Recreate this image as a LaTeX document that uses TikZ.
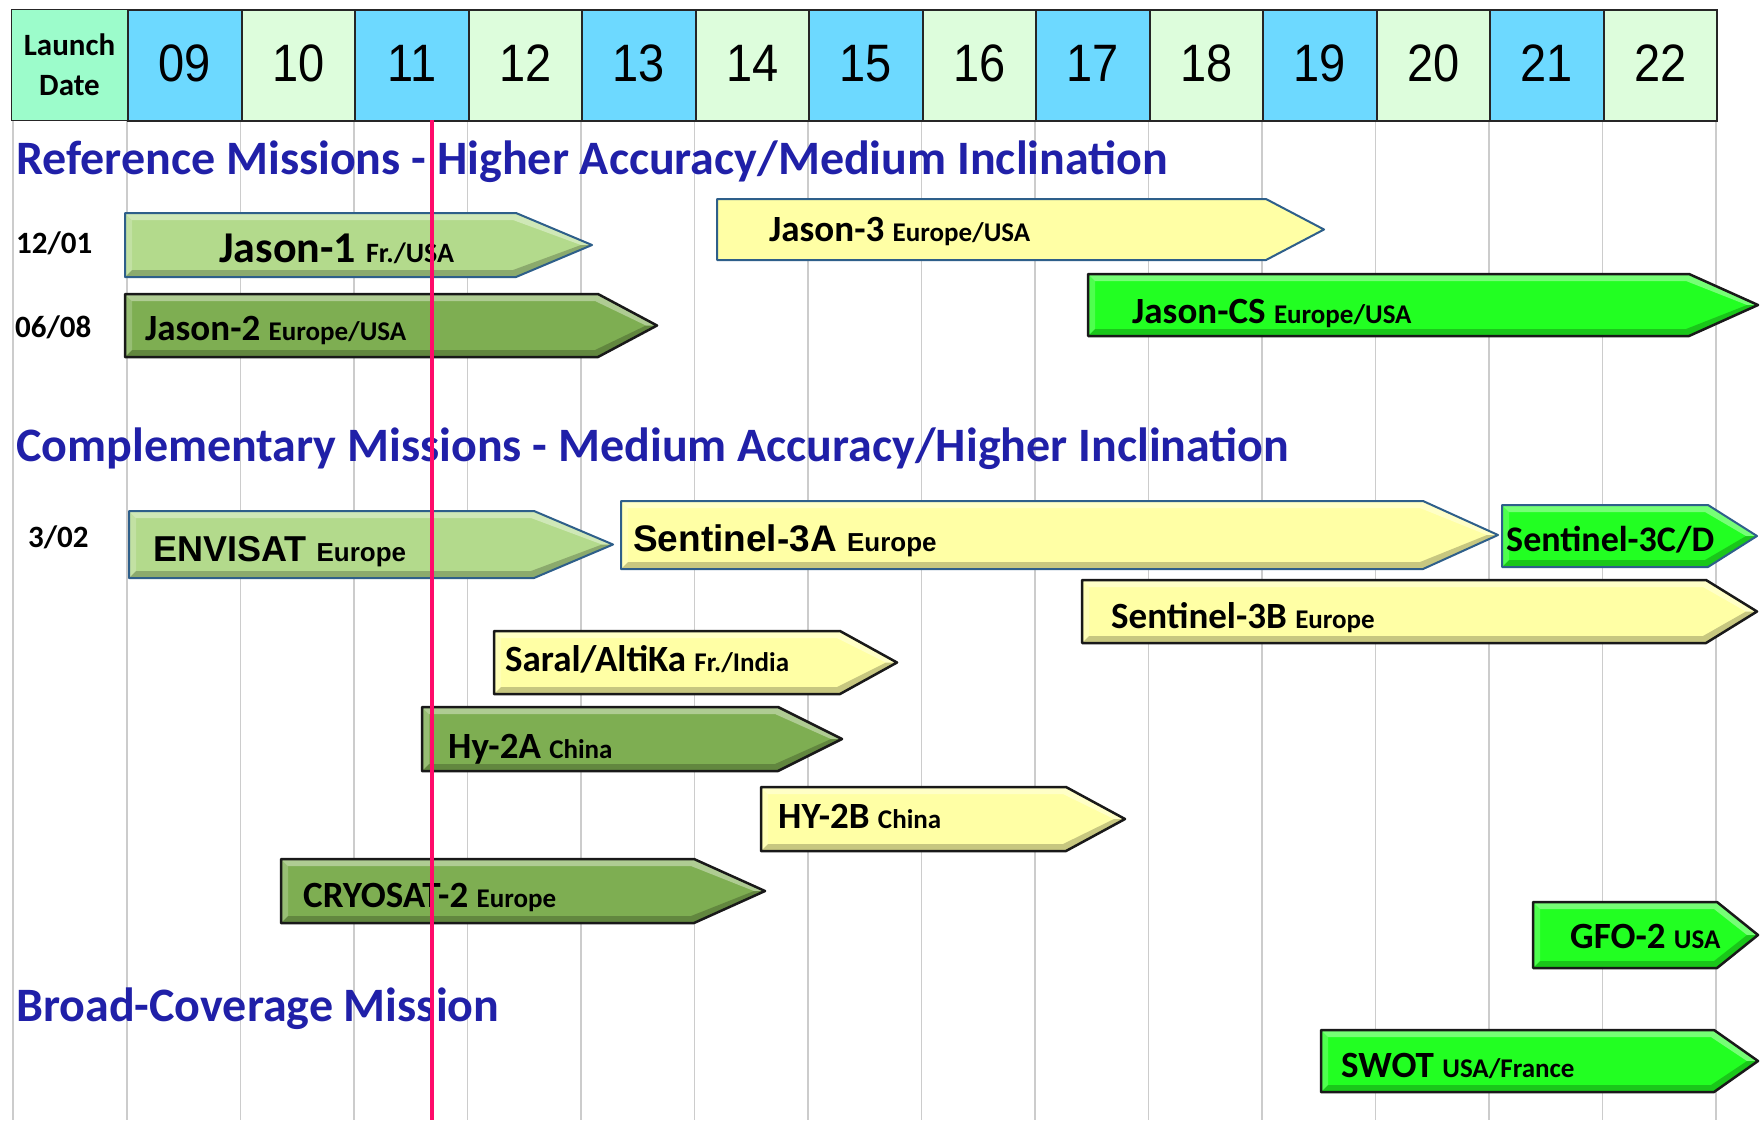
\documentclass[tikz,border=0pt]{standalone}
\usepackage{fontspec}
\setmainfont{Carlito}
\newfontfamily\arialf{Liberation Sans}
\definecolor{hdrblue}{HTML}{6DD9FF}
\definecolor{hdrgreen}{HTML}{DDFDDC}
\definecolor{launchgreen}{HTML}{9CFCCB}
\definecolor{ltgreen}{HTML}{B3DA8C}
\definecolor{olive}{HTML}{7EAE52}
\definecolor{paleyellow}{HTML}{FFFFA5}
\definecolor{brightgreen}{HTML}{22FF22}
\definecolor{titleblue}{HTML}{2020A8}
\definecolor{pinkred}{HTML}{FF0A6A}
\definecolor{gridgrey}{HTML}{CCCCCC}
\definecolor{outlineblue}{HTML}{2E5F8A}
\newcommand{\sm}[1]{{\fontsize{27}{30}\selectfont #1}}
\newcommand{\msnarrow}[8]{%
 \fill[#1] (#3,#4) -- (#6,#4) -- (#7,{(#4+#5)/2}) -- (#6,#5) -- (#3,#5) -- cycle;
 \fill[white,opacity=.38,#8] (#3,#4) -- (#6,#4) -- (#7,{(#4+#5)/2}) -- ({#7-11},{(#4+#5)/2}) -- ({#6-3},{#4+7}) -- ({#3+7},{#4+7}) -- cycle;
 \fill[white,opacity=.2,#8] (#3,#4) -- ({#3+7},{#4+7}) -- ({#3+7},{#5-7}) -- (#3,#5) -- cycle;
 \fill[black,opacity=.22,#8] (#3,#5) -- (#6,#5) -- (#7,{(#4+#5)/2}) -- ({#7-11},{(#4+#5)/2}) -- ({#6-3},{#5-7}) -- ({#3+7},{#5-7}) -- cycle;
 \draw[#2, line join=round] (#3,#4) -- (#6,#4) -- (#7,{(#4+#5)/2}) -- (#6,#5) -- (#3,#5) -- cycle;
}
\tikzset{
 gridline/.style={draw=gridgrey, line width=1.2pt},
 yearbox/.style={draw=black!85, line width=2pt, minimum width=113.5pt, minimum height=111pt, anchor=north west, inner sep=0pt, font=\arialf\fontsize{47}{50}\selectfont},
 oddyear/.style={yearbox, fill=hdrblue},
 evenyear/.style={yearbox, fill=hdrgreen},
 titletext/.style={anchor=base west, inner sep=0pt, text=titleblue, font=\bfseries\fontsize{48}{50}\selectfont},
 datelbl/.style={anchor=base west, inner sep=0pt, font=\bfseries\fontsize{31}{34}\selectfont},
 lbl/.style={anchor=base west, inner sep=0pt, font=\bfseries\fontsize{37}{40}\selectfont},
 blueline/.style={draw=outlineblue, line width=2pt},
 blackline/.style={draw=black!90, line width=2.5pt},
 bev/.style={},
 nobev/.style={opacity=0},
 pinkline/.style={draw=pinkred, line width=4.5pt},
}
\begin{document}
\begin{tikzpicture}[x=1pt,y=-1pt]
\useasboundingbox (0,0) rectangle (1760,1120);
\fill[white] (0,0) rectangle (1760,1120);
% grid
\draw[gridline] (13,120) -- (13,1120);
\foreach \i in {0,...,14} \draw[gridline] ({127+113.5*\i},120) -- ({127+113.5*\i},1120);
% header
\node[yearbox, fill=launchgreen, minimum width=116pt, line width=1pt, font=\bfseries\fontsize{31}{40}\selectfont, align=center] (launch) at (11,9) {Launch\\Date};
\foreach \i/\yr in {0/09,2/11,4/13,6/15,8/17,10/19,12/21}
  \node[oddyear] (y\yr) at ({127+113.5*\i},9) {\raisebox{4pt}{\scalebox{1}[1.12]{\yr}}};
\foreach \i/\yr in {1/10,3/12,5/14,7/16,9/18,11/20,13/22}
  \node[evenyear] (y\yr) at ({127+113.5*\i},9) {\raisebox{4pt}{\scalebox{1}[1.12]{\yr}}};
% titles
\node[titletext] (title1) at (16,174) {Reference Missions - Higher Accuracy/Medium Inclination};
\node[titletext] (title2) at (16,461) {Complementary Missions - Medium Accuracy/Higher Inclination};
\node[titletext] (title3) at (16,1021) {Broad-Coverage Mission};
% dates
\node[datelbl] (d1) at (16,253) {12/01};
\node[datelbl] (d2) at (15,337) {06/08};
\node[datelbl] (d3) at (28,547) {3/02};
% mission arrows
\msnarrow{fill=ltgreen}{blueline}{125}{213}{277}{516}{592}{bev}
\msnarrow{fill=olive}{blackline}{125}{294}{357}{598}{657}{bev}
\msnarrow{fill=paleyellow}{blueline}{717}{199}{260}{1266}{1324}{nobev}
\msnarrow{fill=brightgreen}{blackline}{1088}{274}{336}{1689}{1758}{bev}
\msnarrow{fill=paleyellow}{blueline}{621}{501}{569}{1423}{1498}{bev}
\msnarrow{fill=ltgreen}{blueline}{129}{511}{578}{534}{613}{bev}
\msnarrow{fill=brightgreen}{blueline}{1502}{505}{567}{1708}{1757}{bev}
\msnarrow{fill=paleyellow}{blackline}{1082}{580}{643}{1706}{1757}{bev}
\msnarrow{fill=paleyellow}{blackline}{494}{631}{694}{840}{897}{bev}
\msnarrow{fill=olive}{blackline}{422}{707}{771}{778}{842}{bev}
\msnarrow{fill=paleyellow}{blackline}{761}{787}{851}{1066}{1125}{bev}
\msnarrow{fill=olive}{blackline}{281}{859}{923}{694}{765}{bev}
\msnarrow{fill=brightgreen}{blackline}{1533}{902}{968}{1717}{1758}{bev}
\msnarrow{fill=brightgreen}{blackline}{1321}{1030}{1092}{1714}{1758}{bev}
% labels
\node[lbl, font=\bfseries\fontsize{44}{46}\selectfont] (jason1) at (219,262) {Jason-1 {\fontsize{28}{30}\selectfont Fr./USA}};
\node[lbl] (jason2) at (145,340) {Jason-2 \sm{Europe/USA}};
\node[lbl] (jason3) at (769,241) {Jason-3 \sm{Europe/USA}};
\node[lbl] (jasoncs) at (1132,323) {Jason-CS \sm{Europe/USA}};
\node[lbl, font=\arialf\bfseries\fontsize{36}{40}\selectfont] (envisat) at (153,561) {ENVISAT {\fontsize{26}{30}\selectfont Europe}};
\node[lbl, font=\arialf\bfseries\fontsize{37}{40}\selectfont] (sent3a) at (633,551) {Sentinel-3A {\fontsize{26}{30}\selectfont Europe}};
\node[lbl, font=\bfseries\fontsize{36}{40}\selectfont] (sent3cd) at (1506,551) {Sentinel-3C/D};
\node[lbl] (sent3b) at (1111,628) {Sentinel-3B \sm{Europe}};
\node[lbl] (saral) at (505,671) {Saral/AltiKa \sm{Fr./India}};
\node[lbl] (hy2a) at (448,758) {Hy-2A \sm{China}};
\node[lbl] (hy2b) at (778,828) {HY-2B \sm{China}};
\node[lbl] (cryosat) at (303,907) {CRYOSAT-2 \sm{Europe}};
\node[lbl] (gfo2) at (1570,948) {GFO-2 \sm{USA}};
\node[lbl] (swot) at (1341,1077) {SWOT \sm{USA/France}};
% current-date marker
\draw[pinkline] (432,120) -- (432,1120);
\end{tikzpicture}
\end{document}
